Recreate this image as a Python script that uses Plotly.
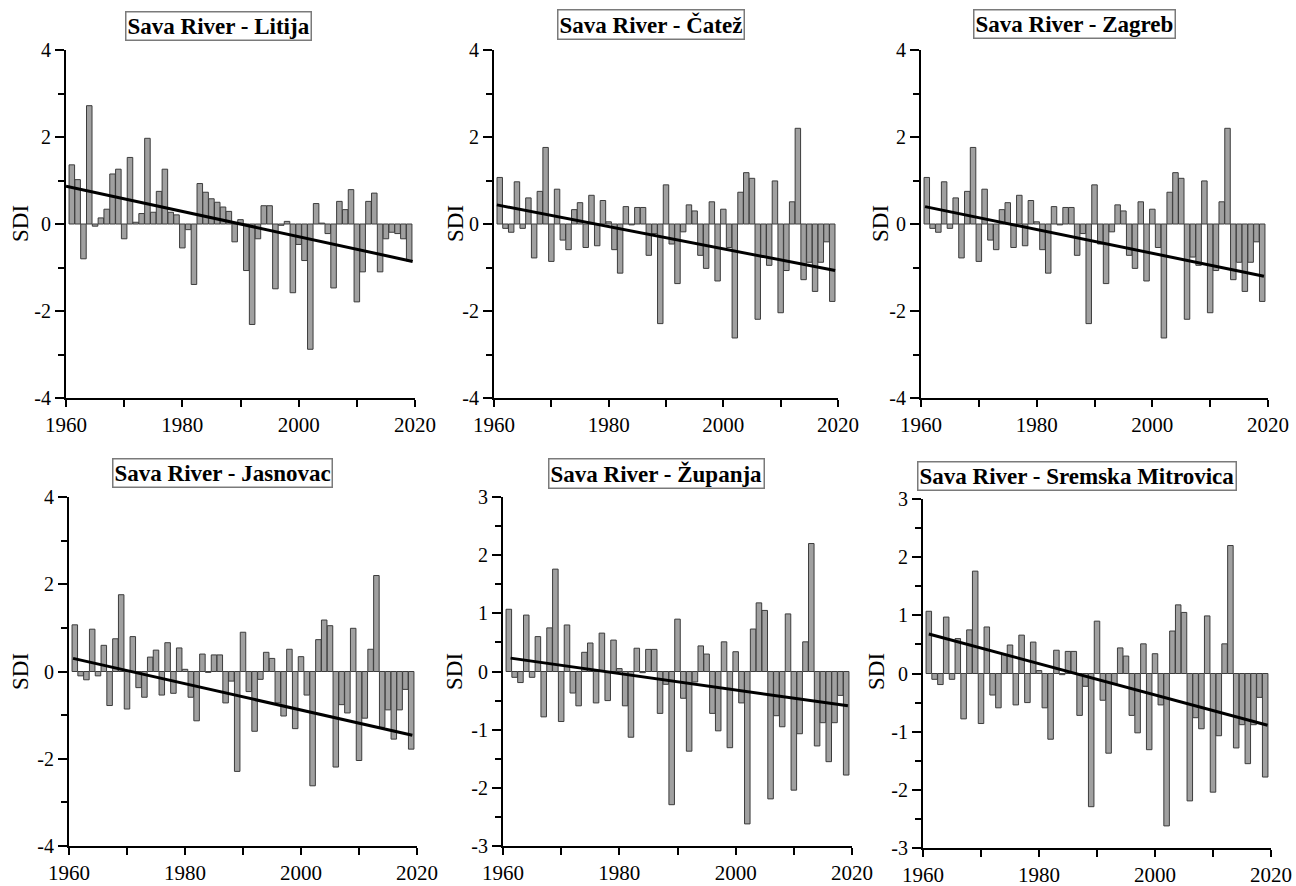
import plotly.graph_objects as go

# ---------------- data ----------------
years = list(range(1961, 2020))

sdi_litija = [1.36, 1.02, -0.80, 2.72, -0.05, 0.14, 0.34, 1.15, 1.26, -0.34,
              1.53, 0.04, 0.24, 1.97, 0.27, 0.75, 1.26, 0.27, 0.21, -0.55,
              -0.13, -1.39, 0.93, 0.73, 0.58, 0.50, 0.39, 0.29, -0.41, 0.10,
              -1.07, -2.31, -0.34, 0.42, 0.42, -1.49, -0.03, 0.06, -1.58, -0.47,
              -0.84, -2.88, 0.47, 0.02, -0.22, -1.47, 0.52, 0.33, 0.79, -1.79,
              -1.10, 0.52, 0.71, -1.10, -0.34, -0.19, -0.22, -0.34, -0.85]

# Same series shown for the downstream stations (Čatež ... Sremska Mitrovica)
sdi_downstream = [1.07, -0.10, -0.19, 0.97, -0.10, 0.60, -0.78, 0.75, 1.76, -0.86,
                  0.80, -0.37, -0.59, 0.33, 0.49, -0.54, 0.66, -0.50, 0.54, 0.05,
                  -0.59, -1.13, 0.40, -0.02, 0.38, 0.38, -0.72, -0.22, -2.29, 0.90,
                  -0.46, -1.37, -0.18, 0.44, 0.30, -0.72, -1.02, 0.51, -1.31, 0.34,
                  -0.54, -2.62, 0.73, 1.18, 1.05, -2.19, -0.76, -0.95, 0.99, -2.04,
                  -1.07, 0.51, 2.20, -1.28, -0.88, -1.55, -0.88, -0.41, -1.78]

titles = ["Sava River - Litija", "Sava River - Čatež", "Sava River - Zagreb",
          "Sava River - Jasnovac", "Sava River - Županja",
          "Sava River - Sremska Mitrovica"]
series = [sdi_litija, sdi_downstream, sdi_downstream,
          sdi_downstream, sdi_downstream, sdi_downstream]
y_limits = [4, 4, 4, 4, 3, 3]

x_tickvals = [1960, 1980, 2000, 2020]
x_ticktext = ["1960", "1980", "2000", "2020"]
y_tickvals_4 = [-4, -2, 0, 2, 4]
y_ticktext_4 = ["-4", "-2", "0", "2", "4"]
y_tickvals_3 = [-3, -2, -1, 0, 1, 2, 3]
y_ticktext_3 = ["-3", "-2", "-1", "0", "1", "2", "3"]

# trend lines: (start year, start value, end year, end value)
trend_start_year = [1960.0, 1960.5, 1960.7, 1960.7, 1961.3, 1961.0]
trend_start_val = [0.87, 0.44, 0.40, 0.30, 0.23, 0.68]
trend_end_year = [2019.6, 2019.5, 2019.3, 2019.2, 2019.3, 2019.4]
trend_end_val = [-0.86, -1.07, -1.20, -1.46, -0.59, -0.89]

# ---------------- layout geometry (window pixels) ----------------
W, H = 1296, 886
x_px = [(66, 415), (494, 838), (921, 1268), (69, 417), (503, 852), (923, 1271)]
y_px = [(50, 398), (50, 398), (50, 398), (497, 846), (497, 846), (499, 848)]
title_px = [(218, 26), (651, 24), (1074, 24), (222, 473), (656, 473), (1077, 476)]
sdi_px = [(20, 224), (455, 224), (880, 224), (20, 672), (454, 672), (876, 672)]


def px_x(v):
    return v / W


def px_y(v):
    return 1 - v / H


SERIF = "Liberation Serif, Times New Roman, serif"

fig = go.Figure()
layout = dict(
    width=W, height=H,
    margin=dict(l=0, r=0, t=0, b=0, autoexpand=False),
    paper_bgcolor="white", plot_bgcolor="white",
    showlegend=False,
    font=dict(family=SERIF, size=20, color="black"),
    bargap=0.0,
)
annotations = []

for i in range(6):
    xa = "x" if i == 0 else f"x{i+1}"
    ya = "y" if i == 0 else f"y{i+1}"
    xkey = "xaxis" if i == 0 else f"xaxis{i+1}"
    ykey = "yaxis" if i == 0 else f"yaxis{i+1}"

    fig.add_trace(go.Bar(
        x=years, y=series[i], xaxis=xa, yaxis=ya,
        marker=dict(color="#a0a0a0", line=dict(color="#3c3c3c", width=1)),
        width=0.95,
    ))
    fig.add_trace(go.Scatter(
        x=[trend_start_year[i], trend_end_year[i]],
        y=[trend_start_val[i], trend_end_val[i]],
        xaxis=xa, yaxis=ya, mode="lines",
        line=dict(color="black", width=3),
    ))

    x0, x1 = x_px[i]
    y0, y1 = y_px[i]
    lim = y_limits[i]
    layout[xkey] = dict(
        domain=[px_x(x0), px_x(x1)], anchor=ya, automargin=False,
        range=[1960, 2020], tickmode="array",
        tickvals=x_tickvals, ticktext=x_ticktext,
        showline=True, linecolor="black", linewidth=2,
        ticks="outside", ticklen=7, tickwidth=2, tickcolor="black",
        minor=dict(tickmode="array", tickvals=[1970, 1990, 2010],
                   ticks="outside", ticklen=7, tickwidth=2, tickcolor="black"),
        showgrid=False, zeroline=False,
        tickfont=dict(family=SERIF, size=21, color="black"),
        fixedrange=True,
    )
    layout[ykey] = dict(
        domain=[px_y(y1), px_y(y0)], anchor=xa, automargin=False,
        range=[-lim, lim], tickmode="array",
        tickvals=y_tickvals_4 if lim == 4 else y_tickvals_3,
        ticktext=y_ticktext_4 if lim == 4 else y_ticktext_3,
        showline=True, linecolor="black", linewidth=2,
        ticks="outside", ticklen=9, tickwidth=2, tickcolor="black",
        minor=dict(dtick=1 if lim == 4 else 0.5, ticks="outside", ticklen=6,
                   tickwidth=2, tickcolor="black"),
        showgrid=False, zeroline=False,
        tickfont=dict(family=SERIF, size=20, color="black"),
        fixedrange=True,
    )

    tx, ty = title_px[i]
    annotations.append(dict(
        x=px_x(tx), y=px_y(ty), xref="paper", yref="paper",
        text=f"<b>{titles[i]}</b>", showarrow=False,
        font=dict(family=SERIF, size=23, color="black"),
        bordercolor="#7a7a7a", borderwidth=1.5, borderpad=1, bgcolor="white",
        xanchor="center", yanchor="middle",
    ))
    sx, sy = sdi_px[i]
    annotations.append(dict(
        x=px_x(sx), y=px_y(sy), xref="paper", yref="paper",
        text="SDI", showarrow=False, textangle=-90,
        font=dict(family=SERIF, size=23, color="black"),
        xanchor="center", yanchor="middle",
    ))

layout["annotations"] = annotations
fig.update_layout(**layout)
fig.write_html(
    "out.html",
    config={"displayModeBar": False, "staticPlot": True},
    post_script="document.body.style.margin='0';document.body.style.overflow='hidden';",
)
